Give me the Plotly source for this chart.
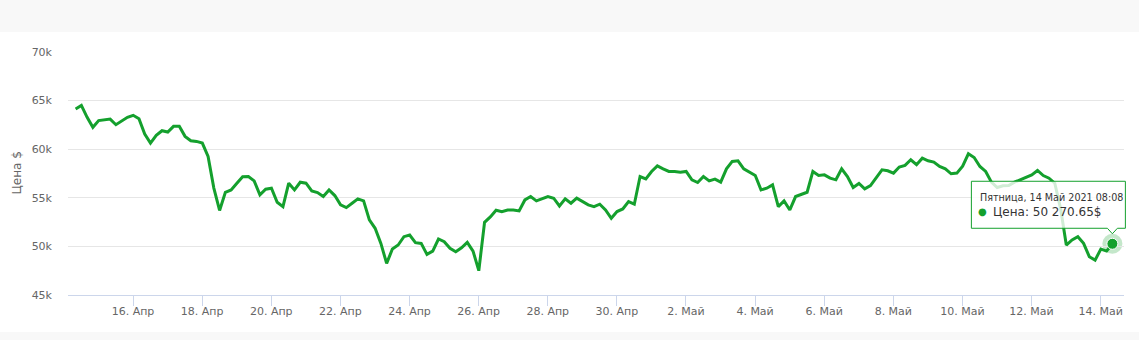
import pandas as pd
import plotly.graph_objects as go

# ---- data -------------------------------------------------------------
start_time = "2021-04-14 08:08"
step = "4h"
prices = [
    64140, 64500, 63280, 62250, 62940, 63040, 63100, 62520, 62870, 63280,
    63490, 63140, 61560, 60630, 61420, 61900, 61770, 62350, 62350, 61320,
    60870, 60800, 60630, 59250, 56000, 53700, 55570, 55815, 56500, 57160,
    57190, 56740, 55300, 55880, 55990, 54540, 54090, 56500, 55810, 56600,
    56500, 55710, 55540, 55130, 55810, 55230, 54270, 53990, 54440, 54890,
    54680, 52720, 51860, 50310, 48250, 49730, 50140, 51000, 51170, 50380,
    50310, 49180, 49520, 50760, 50480, 49800, 49450, 49860, 50410, 49520,
    47500, 52480, 53030, 53720, 53580, 53750, 53750, 53650, 54780, 55130,
    54680, 54890, 55130, 54960, 54160, 54890, 54440, 54960, 54610, 54270,
    54090, 54340, 53750, 52890, 53580, 53850, 54610, 54340, 57190, 56950,
    57710, 58290, 57980, 57710, 57710, 57640, 57710, 56850, 56570, 57190,
    56740, 56920, 56610, 57980, 58740, 58810, 57980, 57640, 57290, 55810,
    55990, 56330, 54090, 54680, 53750, 55130, 55370, 55570, 57710, 57290,
    57360, 57020, 56850, 57980, 57190, 56060, 56470, 55920, 56260, 57090,
    57880, 57780, 57540, 58160, 58330, 58910, 58400, 59080, 58810, 58670,
    58220, 57980, 57470, 57540, 58260, 59530, 59150, 58220, 57710, 56610,
    56060, 56230, 56260, 56610, 56850, 57120, 57360, 57810, 57290, 57020,
    56500, 53920, 50140, 50660, 51000, 50310, 48940, 48590, 49730, 49520,
    50270.65,
]
x_tick_dates = ["2021-04-16", "2021-04-18", "2021-04-20", "2021-04-22",
                "2021-04-24", "2021-04-26", "2021-04-28", "2021-04-30",
                "2021-05-02", "2021-05-04", "2021-05-06", "2021-05-08",
                "2021-05-10", "2021-05-12", "2021-05-14"]
x_tick_labels = ["16. Апр", "18. Апр", "20. Апр", "22. Апр", "24. Апр",
                 "26. Апр", "28. Апр", "30. Апр", "2. Май", "4. Май",
                 "6. Май", "8. Май", "10. Май", "12. Май", "14. Май"]
y_tick_vals = [45000, 50000, 55000, 60000, 65000, 70000]
y_tick_labels = ["45k", "50k", "55k", "60k", "65k", "70k"]
y_range = [45000, 70000]
x_range = ["2021-04-14 02:51", "2021-05-14 16:12"]
tooltip_header = "Пятница, 14 Май 2021 08:08"
tooltip_value = "Цена: 50 270.65$"
y_title = "Цена $"

times = pd.date_range(start=start_time, periods=len(prices), freq=step)

GREEN = "#14a02d"
FONT = "DejaVu Sans"

W, H = 1139, 340
ML, MR, MT, MB = 68, 15, 52, 45
PW, PH = W - ML - MR, H - MT - MB


def px_x(px):
    return (px - ML) / PW


def px_y(py):
    return (H - MB - py) / PH


fig = go.Figure()
fig.add_trace(go.Scatter(
    x=times, y=prices, mode="lines",
    line=dict(color=GREEN, width=3),
    hoverinfo="skip", showlegend=False,
))

last_x = times[-1]
last_y = prices[-1]

fig.add_trace(go.Scatter(
    x=[last_x], y=[last_y], mode="markers",
    marker=dict(color=GREEN, size=11, line=dict(color="white", width=1)),
    hoverinfo="skip", showlegend=False,
))

# hovered point expressed as fraction of the plot area (so the tooltip is not clipped)
xr0, xr1 = pd.Timestamp(x_range[0]), pd.Timestamp(x_range[1])
anchor_px = (last_x - xr0) / (xr1 - xr0)
anchor_py = (last_y - y_range[0]) / (y_range[1] - y_range[0])

shapes = [
    # white band behind the chart
    dict(type="rect", xref="paper", yref="paper",
         x0=px_x(0), x1=px_x(W), y0=px_y(332), y1=px_y(32),
         fillcolor="white", line=dict(width=0), layer="below"),
    # halo around hovered point
    dict(type="circle", xref="paper", yref="paper", xsizemode="pixel", ysizemode="pixel",
         xanchor=anchor_px, yanchor=anchor_py, x0=-10, x1=10, y0=-10, y1=10,
         fillcolor="rgba(20,160,45,0.25)", line=dict(width=0), layer="below"),
    # tooltip box with notch
    dict(type="path", xref="paper", yref="paper", xsizemode="pixel", ysizemode="pixel",
         xanchor=anchor_px, yanchor=anchor_py,
         path="M -141,62.5 L 13,62.5 L 13,15.5 L 5,15.5 L 0,10 L -5,15.5 L -141,15.5 Z",
         fillcolor="rgba(255,255,255,0.8)", line=dict(color=GREEN, width=1),
         layer="above"),
]

annotations = [
    dict(text=y_title, xref="paper", yref="paper", x=px_x(16), y=0.5,
         xanchor="center", yanchor="middle",
         textangle=-90, showarrow=False, font=dict(family=FONT, size=12, color="#666666")),
    dict(text=tooltip_header, xref="paper", yref="paper", x=anchor_px, y=anchor_py,
         xshift=-134, yshift=46, xanchor="left", yanchor="middle", showarrow=False,
         font=dict(family=FONT, size=9.6, color="#333333")),
    dict(text="●", xref="paper", yref="paper", x=anchor_px, y=anchor_py,
         xshift=-130, yshift=32, xanchor="center", yanchor="middle", showarrow=False,
         font=dict(family=FONT, size=10, color=GREEN)),
    dict(text=tooltip_value, xref="paper", yref="paper", x=anchor_px, y=anchor_py,
         xshift=-121, yshift=32, xanchor="left", yanchor="middle", showarrow=False,
         font=dict(family=FONT, size=12, color="#333333")),
]

fig.update_layout(
    width=W, height=H, autosize=False,
    margin=dict(l=ML, r=MR, t=MT, b=MB, pad=0),
    paper_bgcolor="#f8f8f8", plot_bgcolor="white",
    font=dict(family=FONT, size=11, color="#666666"),
    shapes=shapes, annotations=annotations,
    xaxis=dict(
        type="date", range=x_range, tickvals=x_tick_dates, ticktext=x_tick_labels,
        showgrid=False, zeroline=False, showline=True, linecolor="#ccd6eb", linewidth=1,
        ticks="outside", ticklen=10, tickcolor="#ccd6eb", tickwidth=1,
        ticklabelstandoff=-4,
        tickfont=dict(family=FONT, size=11, color="#666666"),
    ),
    yaxis=dict(
        range=y_range, tickvals=y_tick_vals, ticktext=y_tick_labels,
        showgrid=True, gridcolor="#e6e6e6", gridwidth=1, zeroline=False, showline=False,
        ticks="", ticklabelstandoff=15,
        tickfont=dict(family=FONT, size=11, color="#666666"),
    ),
)

fig.write_html("out.html", config={"displayModeBar": False})
